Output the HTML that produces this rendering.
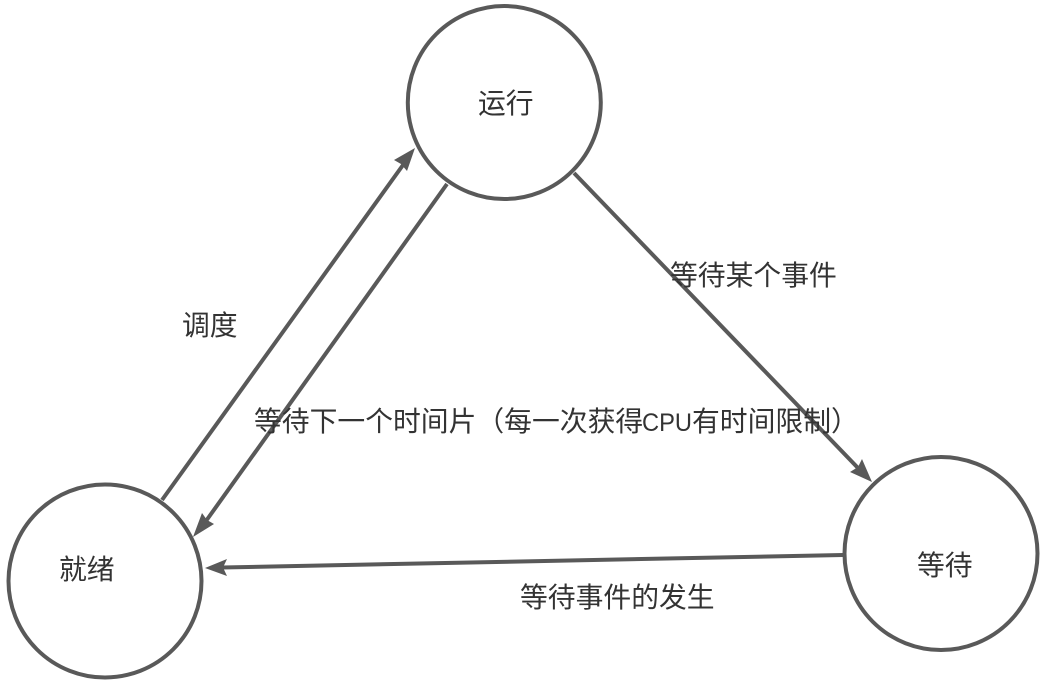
<!DOCTYPE html>
<html lang="zh"><head><meta charset="utf-8"><style>
html,body{margin:0;padding:0;background:#fff}
svg{display:block}
text{font-family:"Liberation Sans","Noto Sans CJK SC",sans-serif;font-size:27.8px;fill:#333}
</style></head><body>
<svg width="1050" height="684" viewBox="0 0 1050 684" xmlns="http://www.w3.org/2000/svg">
<g fill="#fff" stroke="#595959" stroke-width="4">
<circle cx="504.300" cy="102.500" r="96.500"/>
<circle cx="941" cy="553.500" r="96.500"/>
<circle cx="105" cy="581" r="96.500"/>
</g>
<g stroke="#595959" stroke-width="4" fill="none">
<line x1="162" y1="500" x2="403" y2="165"/>
<line x1="447" y1="184" x2="206" y2="521"/>
<line x1="574" y1="173" x2="858" y2="468"/>
<line x1="843" y1="555" x2="222" y2="567.500"/>
</g>
<g fill="#595959">
<polygon points="415,148 407,171 401,164 394,160"/>
<polygon points="193,537 214,524 207,520 202,513"/>
<polygon points="872,482 850,472 858,467 862,459"/>
<polygon points="205,568 227,559 223,567.500 227,576"/>
</g>
<text x="478" y="113">运行</text>
<text x="917" y="575">等待</text>
<text x="59" y="579">就绪</text>
<text x="182" y="335">调度</text>
<text x="670" y="285">等待某个事件</text>
<text y="431"><tspan x="254">等待下一个时间片（每一次获得</tspan><tspan x="642" font-size="25" textLength="50" lengthAdjust="spacingAndGlyphs">CPU</tspan><tspan x="692">有时间限制）</tspan></text>
<text x="520" y="607">等待事件的发生</text>
</svg>
</body></html>
